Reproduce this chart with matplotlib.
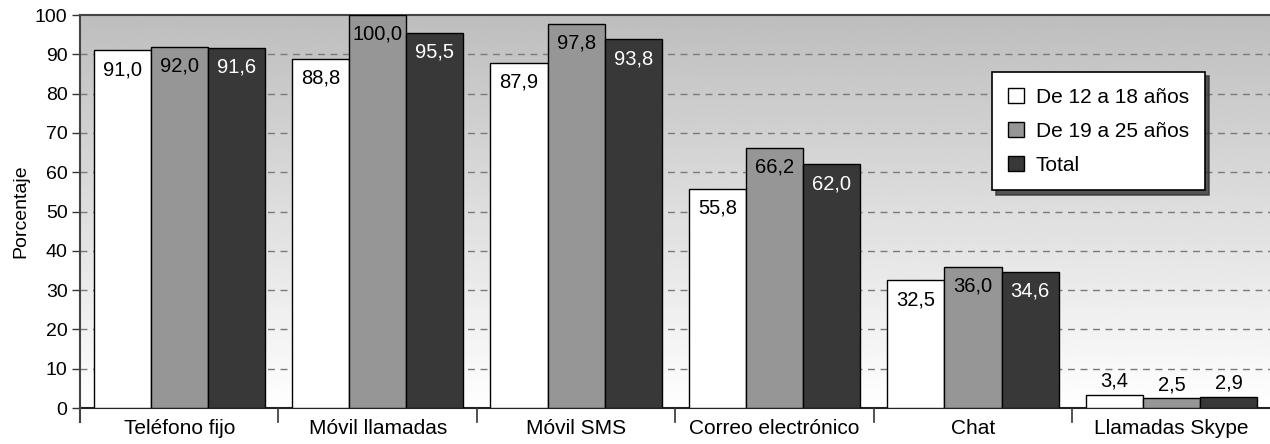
import numpy as np
import matplotlib.pyplot as plt
from matplotlib.lines import Line2D

plt.rcParams['font.family'] = ['Liberation Sans', 'DejaVu Sans']

categorias = ['Teléfono fijo', 'Móvil llamadas', 'Móvil SMS',
              'Correo electrónico', 'Chat', 'Llamadas Skype']
series = ['De 12 a 18 años', 'De 19 a 25 años', 'Total']
de_12_a_18 = [91.0, 88.8, 87.9, 55.8, 32.5, 3.4]
de_19_a_25 = [92.0, 100.0, 97.8, 66.2, 36.0, 2.5]
total = [91.6, 95.5, 93.8, 62.0, 34.6, 2.9]

colores = ['#ffffff', '#969696', '#383838']
colores_texto = ['black', 'black', 'white']

fig = plt.figure(figsize=(12.7, 4.44), dpi=100)
ax = fig.add_axes([0.063, 0.081, 0.9375, 0.885])

# fondo degradado: gris arriba, blanco abajo
grad = np.linspace(0.0, 1.0, 256).reshape(-1, 1)
ax.imshow(grad, extent=[-0.5, 5.5, 0, 100], aspect='auto', cmap='gray',
          vmin=-2.9, vmax=1.0, zorder=0, interpolation='bicubic')

x = np.arange(len(categorias))
w = 0.288
for i, (nombre, vals) in enumerate(zip(series, [de_12_a_18, de_19_a_25, total])):
    pos = x + (i - 1) * w
    ax.bar(pos, vals, w, color=colores[i], edgecolor='black', linewidth=1.0,
           label=nombre, zorder=3)
    for xp, v in zip(pos, vals):
        txt = f'{v:.1f}'.replace('.', ',')
        if v > 10:
            ax.text(xp, v - 2.5, txt, ha='center', va='top', fontsize=14.5,
                    color=colores_texto[i], zorder=4)
        else:
            ax.text(xp, v + 1.0, txt, ha='center', va='bottom', fontsize=14.5,
                    color='black', zorder=4)

ax.set_xlim(-0.5, 5.5)
ax.set_ylim(0, 100)
ax.set_yticks(range(0, 101, 10))
ax.tick_params(axis='y', labelsize=14, length=6, width=1, color='#333333', pad=3)
for yv in range(10, 100, 10):
    ax.axhline(yv, color='#7a7a7a', lw=1, ls=(0, (5, 4)), zorder=1)

ax.set_xticks(x)
ax.set_xticklabels(categorias, fontsize=15)
ax.tick_params(axis='x', length=0, pad=8)
for b in np.arange(0.5, 5.5, 1.0):
    ax.add_line(Line2D([b, b], [0, -3.6], color='#333333', lw=1.2,
                       clip_on=False, zorder=5))
ax.add_line(Line2D([-0.5, -0.5], [0, -3.6], color='#444444', lw=1.5,
                   clip_on=False, zorder=5))

ax.spines['left'].set_color('#444444')
ax.spines['left'].set_linewidth(1.5)
ax.spines['top'].set_color('#444444')
ax.spines['top'].set_linewidth(1.5)
ax.spines['bottom'].set_color('#222222')
ax.spines['bottom'].set_linewidth(1.5)
ax.spines['right'].set_visible(False)

ax.set_ylabel('Porcentaje', fontsize=14, labelpad=4)

leg = ax.legend(loc='upper left', bbox_to_anchor=(0.766, 0.855), fontsize=15,
                frameon=True, fancybox=False,
                shadow={'ox': 3, 'oy': -3, 'color': '#333333', 'alpha': 0.8},
                edgecolor='black', handlelength=0.77, handleheight=0.77,
                borderpad=0.75, labelspacing=0.72, handletextpad=0.58,
                borderaxespad=0)
leg.get_frame().set_linewidth(1.2)
leg.set_zorder(6)

fig.savefig('out.png', dpi=100)
